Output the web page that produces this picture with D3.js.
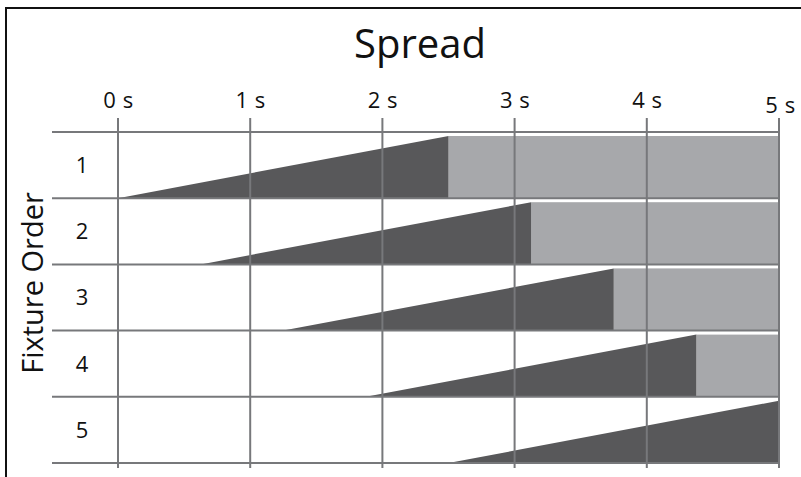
<!DOCTYPE html>
<html><head><meta charset="utf-8">
<script src="https://cdn.jsdelivr.net/npm/d3@7"></script>
<style>
html,body{margin:0;padding:0;background:#fff;}
svg{display:block;font-family:"Open Sans",sans-serif;}
</style></head>
<body><svg id="c" width="801" height="477"></svg>
<script>
// Data
const fixtures = [1, 2, 3, 4, 5];
const rampStart = [0, 0.625, 1.25, 1.875, 2.5];   // seconds
const rampEnd   = [2.5, 3.125, 3.75, 4.375, 5];    // seconds
const holdEnd   = [5, 5, 5, 5, 5];
const tickValues = [0, 1, 2, 3, 4, 5];
const title = "Spread";
const yTitle = "Fixture Order";

const svg = d3.select("#c");
const x = d3.scaleLinear().domain([0, 5]).range([118, 779]);
const y = d3.scaleBand().domain(fixtures).range([132, 463]).padding(0);
const gridColor = "#77787b", dark = "#58585a", light = "#a7a8ab";

// frame
svg.append("path").attr("d", "M6,477 V8 H801").attr("fill", "none")
  .attr("stroke", "#111").attr("stroke-width", 2);

// title
svg.append("text").attr("x", 420).attr("y", 58).attr("text-anchor", "middle")
  .attr("font-size", 40).attr("fill", "#111").text(title);

// y title
svg.append("text").attr("transform", "translate(43,283) rotate(-90)")
  .attr("text-anchor", "middle").attr("font-size", 29).attr("fill", "#111").text(yTitle);

const data = fixtures.map((f, i) => ({f, s: rampStart[i], e: rampEnd[i], h: holdEnd[i]}));
const gap = 4;

// hold rects
svg.append("g").selectAll("rect").data(data.filter(d => d.h > d.e)).join("rect")
  .attr("x", d => x(d.e)).attr("width", d => x(d.h) - x(d.e))
  .attr("y", d => y(d.f) + gap).attr("height", d => y.bandwidth() - gap)
  .attr("fill", light);

// ramps
svg.append("g").selectAll("path").data(data).join("path")
  .attr("d", d => {
    const b = y(d.f) + y.bandwidth(), t = y(d.f) + gap;
    return `M${x(d.s)},${b} L${x(d.e)},${t} L${x(d.e)},${b} Z`;
  })
  .attr("fill", dark);

// vertical grid
svg.append("g").selectAll("line").data(tickValues).join("line")
  .attr("x1", d => x(d)).attr("x2", d => x(d))
  .attr("y1", 118).attr("y2", 468)
  .attr("stroke", gridColor).attr("stroke-width", 2);

// horizontal grid
const hLines = [y(fixtures[0])].concat(fixtures.map(f => y(f) + y.bandwidth()));
svg.append("g").selectAll("line").data(hLines).join("line")
  .attr("x1", 52).attr("x2", 780)
  .attr("y1", d => d).attr("y2", d => d)
  .attr("stroke", gridColor).attr("stroke-width", 2);

// x axis labels
const ax = svg.append("g").attr("transform", "translate(0,108)")
  .call(d3.axisTop(x).tickValues(tickValues).tickSize(0).tickPadding(0).tickFormat(d => d + " s"));
ax.select(".domain").remove();
ax.attr("font-size", null).attr("font-family", null);
ax.selectAll("text").attr("font-size", 22).attr("fill", "#111")
  .attr("letter-spacing", 0.5).attr("dy", 0).attr("dx", 0);
ax.selectAll(".tick").filter(d => d === 5).select("text")
  .attr("dx", 1).attr("dy", 5);

// row labels
svg.append("g").selectAll("text").data(fixtures).join("text")
  .attr("x", 82).attr("y", f => y(f) + y.bandwidth() / 2)
  .attr("dy", "0.36em").attr("text-anchor", "middle")
  .attr("font-size", 22).attr("fill", "#111").text(f => f);
</script></body></html>
